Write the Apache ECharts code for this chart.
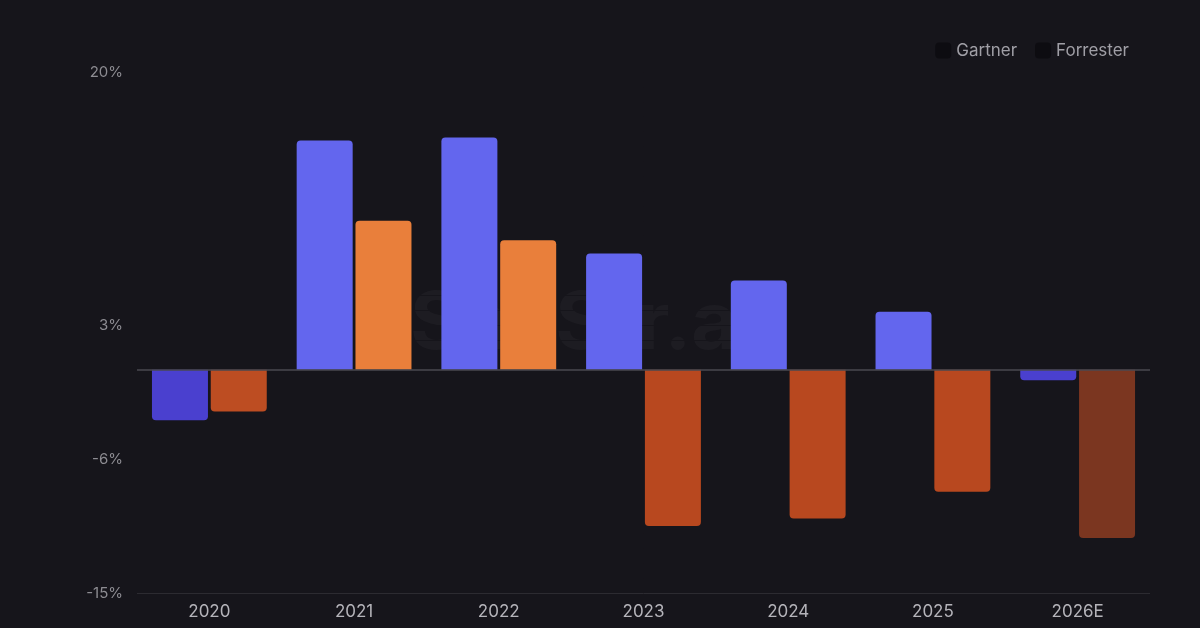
<!DOCTYPE html>
<html><head><meta charset="utf-8">
<script src="https://cdn.jsdelivr.net/npm/echarts@6/dist/echarts.min.js"></script>
<style>html,body{margin:0;background:#16151b;}#c{width:1200px;height:628px;}</style>
</head><body><div id="c"></div>
<script>
const categories = ['2020','2021','2022','2023','2024','2025','2026E'];
const gartner = [-3.4, 15.4, 15.6, 7.8, 6.0, 3.9, -0.7];
const forrester = [-2.8, 10.0, 8.7, -10.5, -10.0, -8.2, -11.3];
const tickLabels = [20, 3, -6, -15];
const gColors = ['#4a40cf','#6366ee','#6366ee','#6366ee','#6366ee','#6366ee','#4a40cf'];
const fColors = ['#bd4d22','#e97f3b','#e97f3b','#b8481f','#b8481f','#b8481f','#7b3620'];
function items(vals, cols){
  return vals.map((v,i)=>({value:v,itemStyle:{color:cols[i],borderRadius: v>=0?[4,4,0,0]:[0,0,4,4]}}));
}
const chart = echarts.init(document.getElementById('c'));
chart.setOption({
  backgroundColor:'#16151b',
  animation:false,
  graphic:[{type:'text',left:410,top:285,style:{text:'SaaStr.ai',fontSize:80,fontWeight:'bold',fill:'rgba(255,255,255,0.03)',fontFamily:'Inter'}}],
  legend:{right:66,top:37,itemWidth:16,itemHeight:16,itemGap:18,
    textStyle:{color:'#a09fa6',fontSize:17,fontFamily:'Inter'},
    data:[{name:'Gartner',itemStyle:{color:'#0d0c11'}},{name:'Forrester',itemStyle:{color:'#0d0c11'}}]},
  grid:{left:137,right:50,top:72,bottom:35},
  xAxis:{type:'category',data:categories,
    axisLine:{show:false},axisTick:{show:false},
    axisLabel:{color:'#b5b4ba',fontSize:17,fontFamily:'Inter',margin:10}},
  yAxis:{type:'value',min:-15,max:20,interval:1,
    axisLine:{show:false},axisTick:{show:false},
    splitLine:{show:true,lineStyle:{color:['#16151b'],width:1},showMinLine:false},
    axisLabel:{color:'#8d8c92',fontSize:15,fontFamily:'Inter',margin:14,
      formatter:v=>tickLabels.includes(v)?v+'%':''}},
  series:[
    {name:'Gartner',type:'bar',data:items(gartner,gColors),barWidth:56,barGap:'5%',
     itemStyle:{color:'#6366ee'},
     markLine:{silent:true,symbol:'none',label:{show:false},
       data:[{yAxis:0,lineStyle:{color:'#4a4950',width:1.5,type:'solid'}},
             {yAxis:-15,lineStyle:{color:'#2c2b31',width:1,type:'solid'}}]}},
    {name:'Forrester',type:'bar',data:items(forrester,fColors),barWidth:56,
     itemStyle:{color:'#e97f3b'}}
  ]
});
</script></body></html>
